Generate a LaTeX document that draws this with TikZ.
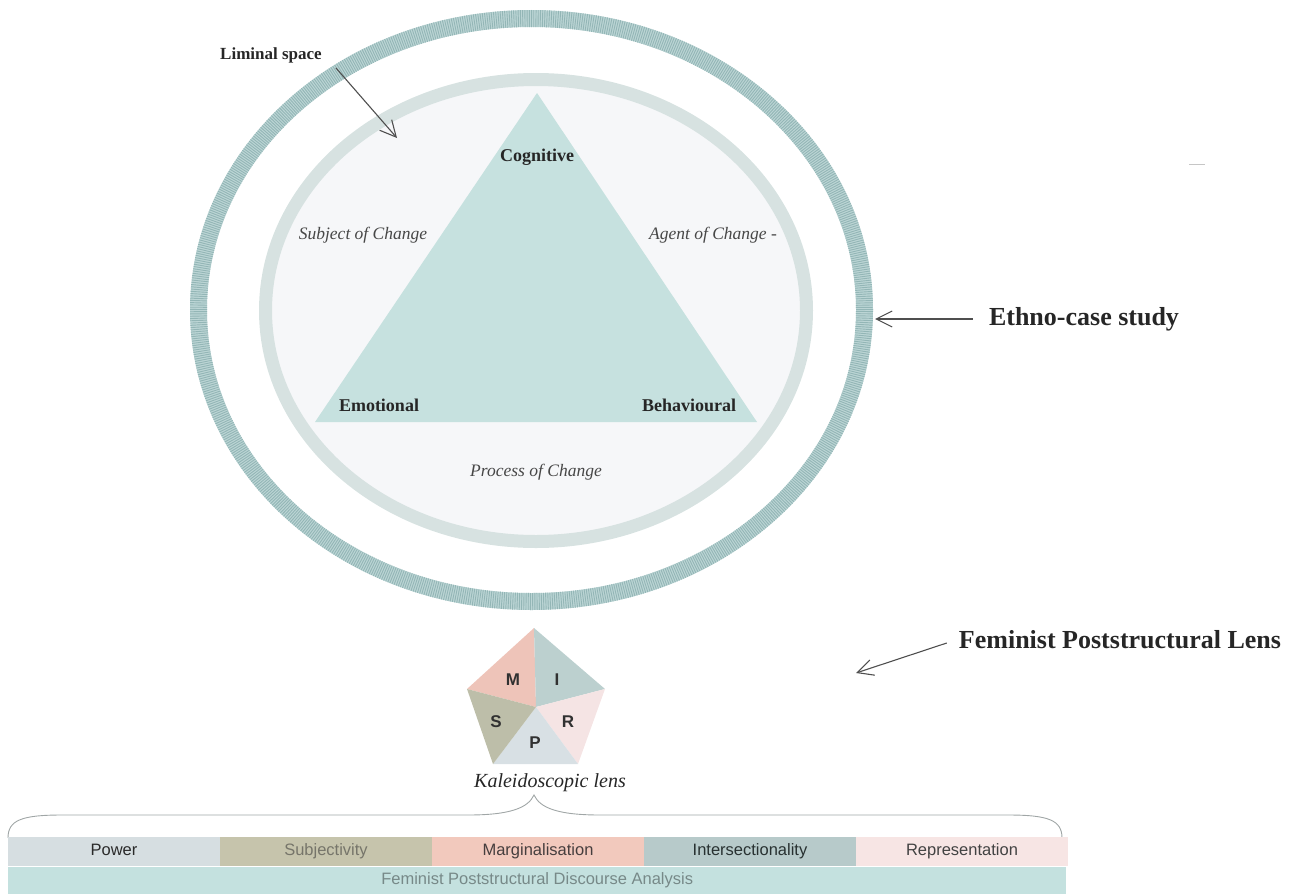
\documentclass[tikz,border=0pt]{standalone}
\usepackage{fontspec}
\setmainfont{Liberation Serif}
\setsansfont{Liberation Sans}
\usetikzlibrary{arrows.meta}

\definecolor{ringbase}{HTML}{BCD5D5}
\definecolor{ringhatch}{HTML}{93B6B6}
\definecolor{innerring}{HTML}{D7E2E1}
\definecolor{innerfill}{HTML}{F6F7F9}
\definecolor{trifill}{HTML}{C6E1DF}
\definecolor{inkdark}{HTML}{262626}
\definecolor{arrowgray}{HTML}{4F4F4F}
\definecolor{bracegray}{HTML}{A0A6A6}
\definecolor{segM}{HTML}{EEC4B9}
\definecolor{segI}{HTML}{BCD0CF}
\definecolor{segR}{HTML}{F5E4E4}
\definecolor{segP}{HTML}{D8E0E4}
\definecolor{segS}{HTML}{BDBEA9}
\definecolor{barPower}{HTML}{D6DEE1}
\definecolor{barSubj}{HTML}{C6C4AC}
\definecolor{barMarg}{HTML}{F2C9BD}
\definecolor{barInter}{HTML}{B7CACA}
\definecolor{barRep}{HTML}{F7E5E4}
\definecolor{barBase}{HTML}{C4E1DF}
\definecolor{txtPower}{HTML}{2A2A2A}
\definecolor{txtSubj}{HTML}{76756A}
\definecolor{txtMarg}{HTML}{463E3E}
\definecolor{txtInter}{HTML}{283131}
\definecolor{txtRep}{HTML}{424242}
\definecolor{txtBase}{HTML}{778988}

\tikzset{
  serifbold/.style={font=\fontsize{18}{20}\selectfont\bfseries, text=inkdark, inner sep=0pt},
  serifital/.style={font=\fontsize{17.5}{20}\selectfont\itshape, text=inkdark!85, inner sep=0pt},
  headline/.style={font=\fontsize{26}{30}\selectfont\bfseries, text=inkdark, inner sep=0pt},
  pointer/.style={draw=arrowgray, line width=1.1pt, -{Straight Barb[length=16pt,width=16pt]}},
  segletter/.style={font=\sffamily\bfseries\fontsize{17}{19}\selectfont, text=inkdark!95, inner sep=0pt},
  barcell/.style={anchor=north west, minimum width=211.6pt, minimum height=29pt, inner sep=0pt,
    text height=12pt, text depth=3.5pt,
    font=\sffamily\fontsize{16.5}{18}\selectfont},
}

\begin{document}
\begin{tikzpicture}[x=1pt, y=-1pt]
\useasboundingbox (0,0) rectangle (1293,894);

% ---- outer hatched ring (ethno-case study)
\coordinate (outerc) at (531.5,310);
\draw[ringbase, line width=17pt] (outerc) ellipse [x radius=333pt, y radius=291.5pt];
\draw[ringhatch, line width=17pt, dash pattern=on 0.9pt off 1.3pt] (outerc) ellipse [x radius=333pt, y radius=291.5pt];

% ---- inner liminal space
\coordinate (innerc) at (536,310.5);
\fill[innerfill] (innerc) ellipse [x radius=270.5pt, y radius=231pt];
\draw[innerring, line width=13pt] (innerc) ellipse [x radius=270.5pt, y radius=231pt];

% ---- triangle of change
\coordinate (apex) at (537,93);
\coordinate (baseL) at (315,422);
\coordinate (baseR) at (757,422);
\fill[trifill] (apex) -- (baseL) -- (baseR) -- cycle;

\node[serifbold] (cog) at (537,157) {Cognitive};
\node[serifbold] (emo) at (379,405) {Emotional};
\node[serifbold] (beh) at (689,405) {Behavioural};

\node[serifital] (subj) at (363,235) {Subject of Change};
\node[serifital] (agent) at (713,235) {Agent of Change -};
\node[serifital] (proc) at (536,472) {Process of Change};

% ---- liminal space label and pointer
\node[font=\fontsize{17}{20}\selectfont\bfseries, text=inkdark, inner sep=0pt] (liminal) at (271,55) {Liminal space};
\coordinate (limstart) at (336,68);
\coordinate (limtip) at (397,138);
\draw[pointer] (limstart) -- (limtip);

% ---- ethno-case study label
\node[headline] (ethno) at (1084,319) {Ethno-case study};
\coordinate (ethnotip) at (875,319);
\draw[pointer] ([xshift=-16pt]ethno.west) -- (ethnotip);

% ---- feminist lens label
\node[headline] (lens) at (1120,640) {Feminist Poststructural Lens};
\coordinate (lenstip) at (856,673);
\draw[pointer] ([xshift=-12pt,yshift=-3pt]lens.west) -- (lenstip);

% small stray mark
\coordinate (markA) at (1189,164);
\coordinate (markB) at (1205,164);
\draw[gray!45, line width=0.9pt] (markA) -- (markB);

% ---- kaleidoscopic pentagon
\coordinate (pc) at (536,707);
\coordinate (pT) at (534,628);
\coordinate (pUR) at (605,689);
\coordinate (pLR) at (578,764);
\coordinate (pLL) at (493,764);
\coordinate (pUL) at (467,689);
\fill[segM] (pc) -- (pT) -- (pUL) -- cycle;
\fill[segI] (pc) -- (pT) -- (pUR) -- cycle;
\fill[segR] (pc) -- (pUR) -- (pLR) -- cycle;
\fill[segP] (pc) -- (pLR) -- (pLL) -- cycle;
\fill[segS] (pc) -- (pLL) -- (pUL) -- cycle;
\node[segletter] (lm) at (513,680) {M};
\node[segletter] (li) at (557,680) {I};
\node[segletter] (ls) at (496,722) {S};
\node[segletter] (lr) at (568,722) {R};
\node[segletter] (lp) at (535,743) {P};

\node[font=\fontsize{20}{22}\selectfont\itshape, text=inkdark, inner sep=0pt] (kal) at (550,783) {Kaleidoscopic lens};

% ---- brace over the analytic categories
\coordinate (brL) at (8,838);
\coordinate (brTip) at (534,795);
\coordinate (brR) at (1062,838);
\draw[bracegray, line width=0.9pt]
  (brL) .. controls (8,820) and (22,815) .. (62,815)
  -- (468,815) .. controls (510,815) and (528,808) .. (brTip)
  .. controls (540,808) and (558,815) .. (600,815)
  -- (1008,815) .. controls (1048,815) and (1062,820) .. (brR);

% ---- category bars
\node[barcell, fill=barPower, text=txtPower] (power) at (8,837) {Power};
\node[barcell, fill=barSubj, text=txtSubj] (subjty) at (power.north east) {Subjectivity};
\node[barcell, fill=barMarg, text=txtMarg] (marg) at (subjty.north east) {Marginalisation};
\node[barcell, fill=barInter, text=txtInter] (inter) at (marg.north east) {Intersectionality};
\node[barcell, fill=barRep, text=txtRep] (repr) at (inter.north east) {Representation};
\node[barcell, minimum width=1058pt, minimum height=28pt, fill=barBase, text=txtBase] (fpda) at (power.south west) {Feminist Poststructural Discourse Analysis};

\end{tikzpicture}
\end{document}
